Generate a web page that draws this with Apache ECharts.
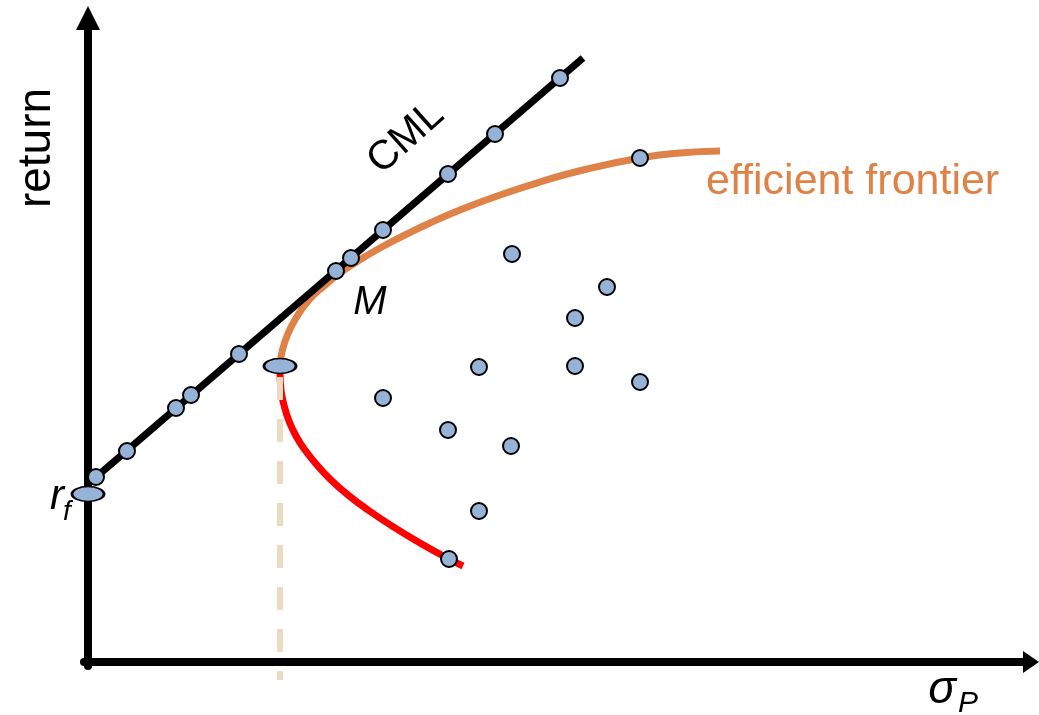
<!DOCTYPE html>
<html><head><meta charset="utf-8">
<script src="https://cdn.jsdelivr.net/npm/echarts@6/dist/echarts.min.js"></script>
<style>html,body{margin:0;padding:0;background:#fff}#c{width:1039px;height:715px}</style>
</head><body><div id="c"></div>
<script>
// Schematic units: x = risk (sigma), y = return
const cmlLine = [[0, 178], [495, 604]];
const cmlPoints = [[8,185],[39,211],[88,254],[103,267],[151,308],[248,391],[263,404],[295,432],[360,488],[407,528],[472,584]];
const frontierUpper = [[192,296],[194,310],[199,326],[208,344],[221,362],[236,376],[252,389],[270,401],[292,414],[317,427],[342,439],[372,452],[412,467],[452,480],[495,492],[552,504],[592,509],[632,511]];
const frontierLower = [[192,290],[193,272],[196,257],[201,241],[208,226],[217,212],[229,197],[243,182],[260,167],[280,152],[304,136],[332,119],[361,103],[375,96]];
const portfolios = [[424,408],[519,375],[487,344],[295,264],[391,295],[487,296],[552,280],[360,232],[423,216],[391,151],[361,103],[552,504]];
const minVariance = [[192,296]];
const riskFree = [[0,168]];
const minVarDrop = [[192,285],[192,-18]];

const dotStyle = {color:'#95B3D7', borderColor:'#000', borderWidth:2, opacity:1};
const chart = echarts.init(document.getElementById('c'));
chart.setOption({
  animation:false,
  grid:{left:84, right:8, top:18, bottom:49},
  xAxis:{type:'value', min:-4, max:943, z:5,
    axisLine:{show:true, onZero:true, symbol:['none','triangle'], symbolSize:[22,16], lineStyle:{color:'#000', width:8}},
    axisTick:{show:false}, axisLabel:{show:false}, splitLine:{show:false}},
  yAxis:{type:'value', min:-4, max:644, z:5,
    axisLine:{show:true, onZero:true, symbol:['none','triangle'], symbolSize:[24,24], lineStyle:{color:'#000', width:8}},
    axisTick:{show:false}, axisLabel:{show:false}, splitLine:{show:false}},
  series:[
    {type:'line', data:minVarDrop, symbol:'none', clip:false, z:4,
     lineStyle:{color:'#EADCC3', width:6, type:[23,19]}},
    {type:'line', data:frontierUpper, symbol:'none', smooth:true, z:3,
     lineStyle:{color:'#DF8248', width:7}},
    {type:'line', data:frontierLower, symbol:'none', smooth:true, z:3,
     lineStyle:{color:'#FF0000', width:7}},
    {type:'line', data:cmlLine, symbol:'none', z:6,
     lineStyle:{color:'#000', width:7}},
    {type:'scatter', data:cmlPoints.concat(portfolios), symbolSize:16, z:7, itemStyle:dotStyle},
    {type:'scatter', data:minVariance.concat(riskFree), symbolSize:[32,15], z:7, itemStyle:dotStyle}
  ],
  graphic:[
    {type:'text', x:37, y:148, rotation:Math.PI/2, z:10, style:{text:'return', font:'46px "Liberation Sans", Arial, sans-serif', fill:'#000', align:'center', verticalAlign:'middle'}},
    {type:'text', x:406, y:138, rotation:0.73, z:10, style:{text:'CML', font:'41px "Liberation Sans", Arial, sans-serif', fill:'#000', align:'center', verticalAlign:'middle'}},
    {type:'text', x:370, y:303, z:10, style:{text:'M', font:'italic 40px "Liberation Sans", Arial, sans-serif', fill:'#000', align:'center', verticalAlign:'middle'}},
    {type:'text', x:706, y:182, z:10, style:{text:'efficient frontier', font:'43px "Liberation Sans", Arial, sans-serif', fill:'#DF8248', align:'left', verticalAlign:'middle'}},
    {type:'text', x:57, y:497, z:10, style:{text:'r', font:'italic 42px "Liberation Sans", Arial, sans-serif', fill:'#000', align:'center', verticalAlign:'middle'}},
    {type:'text', x:67, y:512, z:10, style:{text:'f', font:'italic 28px "Liberation Sans", Arial, sans-serif', fill:'#000', align:'center', verticalAlign:'middle'}},
    {type:'text', x:942, y:690, z:10, style:{text:'σ', font:'italic 46px "Liberation Sans", Arial, sans-serif', fill:'#000', align:'center', verticalAlign:'middle'}},
    {type:'text', x:968, y:704, z:10, style:{text:'P', font:'italic 30px "Liberation Sans", Arial, sans-serif', fill:'#000', align:'center', verticalAlign:'middle'}}
  ]
});
</script></body></html>
